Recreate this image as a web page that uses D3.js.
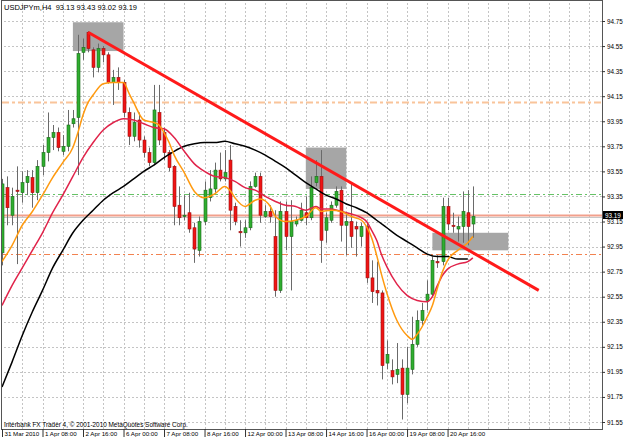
<!DOCTYPE html>
<html><head><meta charset="utf-8">
<script src="https://cdn.jsdelivr.net/npm/d3@7"></script>
<style>
body{margin:0;background:#fff;}
svg{display:block;font-family:"Liberation Sans",Arial,sans-serif;}
</style></head><body>
<svg id="c" width="625" height="441"></svg>
<script>
// ---------- data ----------
const symbolTitle = "USDJPYm,H4  93.13 93.43 93.02 93.19";
const footerText = "Interbank FX Trader 4, \u00a9 2001-2010 MetaQuotes Software Corp.";
const timeLabels = ["31 Mar 2010","1 Apr 08:00","2 Apr 16:00","6 Apr 00:00","7 Apr 08:00","8 Apr 16:00","12 Apr 00:00","13 Apr 08:00","14 Apr 16:00","16 Apr 00:00","19 Apr 08:00","20 Apr 16:00"];
const timeLabelBars = [0,8,16,24,32,40,48,56,64,72,80,88];
const priceTicks = [94.75,94.55,94.35,94.15,93.95,93.75,93.55,93.35,93.15,92.95,92.75,92.55,92.35,92.15,91.95,91.75,91.55];
const openP  = [92.90,93.42,93.20,93.40,93.38,93.46,93.50,93.38,93.59,93.70,93.82,93.86,93.71,93.75,93.93,93.98,94.50,94.66,94.52,94.38,94.53,94.48,94.26,94.30,94.26,94.02,93.83,93.96,93.80,93.70,93.62,94.02,93.86,93.70,93.59,93.28,93.19,93.22,93.10,92.92,93.15,93.34,93.41,93.56,93.49,93.64,93.27,93.07,93.06,93.10,93.43,93.51,93.19,93.23,93.03,92.60,93.23,93.03,93.13,93.16,93.22,93.18,93.46,93.51,93.08,93.16,93.28,93.40,93.12,93.15,93.11,93.03,93.11,92.70,92.60,92.58,92.02,91.96,91.93,91.98,91.77,91.97,92.17,92.36,92.52,92.57,92.83,92.83,93.27,93.12,93.09,93.11,93.22,93.13];
const highP  = [93.49,93.51,93.42,93.59,93.55,93.56,93.56,93.64,93.76,94.02,93.92,93.90,93.84,94.04,94.04,94.64,94.61,94.67,94.54,94.57,94.55,94.50,94.36,94.38,94.28,94.06,94.02,94.02,93.83,93.74,94.24,94.24,93.90,93.72,93.60,93.43,93.36,93.38,93.14,93.19,93.47,93.56,93.62,93.70,93.72,93.76,93.30,93.16,93.16,93.47,93.54,93.54,93.28,93.28,93.24,93.31,93.31,93.32,93.19,93.30,93.35,93.51,93.64,93.72,93.22,93.31,93.43,93.43,93.22,93.46,93.15,93.14,93.14,92.84,92.83,92.60,92.20,92.05,92.18,92.05,92.15,92.39,92.44,92.50,92.68,92.87,92.88,93.34,93.34,93.22,93.19,93.39,93.40,93.43];
const lowP   = [92.80,93.12,93.12,92.81,93.30,93.36,93.26,93.32,93.52,93.63,93.72,93.71,93.68,93.71,93.90,93.52,94.44,94.50,94.30,94.34,94.42,94.25,94.08,94.20,93.98,93.76,93.79,93.74,93.66,93.59,93.60,93.76,93.64,93.55,93.12,93.12,93.16,93.06,92.82,92.87,93.12,93.31,93.38,93.47,93.47,93.08,93.12,92.95,93.02,93.08,93.42,93.14,93.18,93.14,92.55,92.58,92.92,92.60,93.11,93.15,93.12,93.16,93.43,92.82,92.98,93.14,93.26,92.99,92.88,92.94,92.87,92.95,92.66,92.50,92.48,91.89,91.97,91.85,91.86,91.57,91.70,91.93,92.15,92.32,92.44,92.55,92.78,92.80,93.08,93.06,92.99,92.98,92.96,93.02];
const closeP = [93.45,93.26,93.35,93.39,93.46,93.51,93.38,93.59,93.70,93.82,93.86,93.74,93.75,93.92,93.97,94.49,94.54,94.53,94.38,94.53,94.48,94.26,94.30,94.26,94.02,93.83,93.94,93.80,93.70,93.62,94.04,93.80,93.70,93.58,93.27,93.18,93.20,93.09,92.93,93.15,93.40,93.41,93.56,93.49,93.54,93.24,93.15,93.06,93.10,93.43,93.51,93.20,93.23,93.19,92.60,93.23,93.03,93.15,93.16,93.24,93.18,93.42,93.51,93.00,93.18,93.28,93.39,93.12,93.15,93.03,93.09,93.11,92.70,92.59,92.58,92.00,92.09,91.91,91.97,91.77,91.98,92.17,92.36,92.44,92.57,92.84,92.82,93.27,93.13,93.11,93.11,93.23,93.11,93.19];
const lastPrice = 93.19;
// moving averages: [bar, price]
const fastMA = [[0,92.83],[2,92.96],[4,93.12],[6,93.23],[8,93.36],[10,93.50],[12,93.62],[14,93.74],[15,93.86],[16,94.00],[17,94.10],[18,94.16],[20,94.25],[22,94.26],[24,94.26],[25,94.18],[26,94.10],[28,93.96],[30,93.94],[31,93.92],[32,93.86],[33,93.78],[34,93.68],[36,93.54],[38,93.39],[40,93.34],[42,93.37],[44,93.43],[45,93.40],[46,93.34],[48,93.27],[50,93.32],[51,93.33],[53,93.27],[54,93.19],[56,93.15],[58,93.16],[60,93.19],[62,93.26],[63,93.23],[65,93.24],[67,93.23],[69,93.19],[71,93.16],[72,93.11],[73,93.02],[74,92.88],[75,92.72],[76,92.58],[78,92.36],[80,92.24],[81,92.21],[82,92.25],[84,92.39],[85,92.48],[86,92.62],[87,92.75],[88,92.84],[90,92.92],[92,92.98],[93,93.03]];
const midMA = [[0,92.48],[2,92.64],[4,92.78],[6,92.92],[8,93.06],[10,93.22],[12,93.36],[14,93.51],[16,93.66],[18,93.78],[20,93.88],[22,93.94],[24,93.97],[26,93.96],[28,93.93],[30,93.90],[32,93.89],[34,93.82],[36,93.71],[38,93.61],[40,93.55],[42,93.51],[44,93.50],[46,93.47],[48,93.42],[50,93.40],[52,93.35],[54,93.31],[56,93.28],[58,93.27],[60,93.24],[62,93.27],[63,93.25],[65,93.25],[67,93.23],[69,93.21],[71,93.18],[72,93.15],[73,93.08],[74,93.00],[75,92.88],[76,92.79],[78,92.65],[80,92.56],[82,92.52],[84,92.51],[85,92.55],[86,92.64],[87,92.72],[88,92.77],[90,92.81],[92,92.83],[93,92.86]];
const slowMA = [[0,91.83],[2,92.03],[4,92.24],[6,92.43],[8,92.60],[10,92.78],[12,92.92],[14,93.06],[16,93.16],[18,93.24],[20,93.32],[22,93.38],[24,93.43],[26,93.49],[28,93.55],[30,93.60],[32,93.66],[34,93.71],[36,93.75],[38,93.77],[40,93.78],[42,93.78],[44,93.79],[46,93.77],[48,93.75],[50,93.72],[52,93.68],[54,93.63],[56,93.58],[58,93.52],[60,93.46],[62,93.41],[64,93.36],[66,93.33],[68,93.29],[70,93.26],[72,93.22],[74,93.16],[76,93.10],[78,93.04],[80,92.99],[82,92.94],[84,92.89],[86,92.87],[88,92.87],[90,92.85],[92,92.85]];
const levelPrices = [94.10, 93.37, 93.20, 92.89];
const zoneBars = [[14,24],[60,68],[85,100]];
const zonePrices = [[94.74,94.51],[93.74,93.41],[93.06,92.92]];
const trendBars = [17,106];
const trendPrices = [94.66,92.60];

// ---------- drawing ----------
const svg = d3.select("#c");
const L = 2, R = 602, T = 1, B = 429;
const x = d3.scaleLinear().domain([0,118.5]).range([L,R]);
const y = d3.scaleLinear().domain([91.55,94.75]).range([422,21]);
const FONT = "Liberation Sans, Arial, sans-serif";

svg.append("rect").attr("width",625).attr("height",441).attr("fill","#fff");
svg.append("defs").append("clipPath").attr("id","clip")
  .append("rect").attr("x",L).attr("y",T).attr("width",R-L).attr("height",B-T);

// grid
const gH = svg.append("g").attr("transform",`translate(${R},0)`)
  .call(d3.axisLeft(y).tickValues(priceTicks).tickSize(R-L).tickFormat(""));
const gV = svg.append("g").attr("transform",`translate(0,${B})`)
  .call(d3.axisTop(x).tickValues(d3.range(4,118,4)).tickSize(B-T).tickFormat(""));
[gH,gV].forEach(g=>{g.select(".domain").remove();
  g.selectAll("line").attr("stroke","#c4c4c4").attr("stroke-dasharray","2,2").attr("shape-rendering","crispEdges");});

const plot = svg.append("g").attr("clip-path","url(#clip)");

// zones
plot.selectAll("rect.zone").data(zoneBars).join("rect").attr("class","zone")
  .attr("x",d=>x(d[0])).attr("width",d=>x(d[1])-x(d[0]))
  .attr("y",(d,i)=>y(zonePrices[i][0])).attr("height",(d,i)=>y(zonePrices[i][1])-y(zonePrices[i][0]))
  .attr("fill","#a6a6a6");

// horizontal levels
const levelStyle = [
  {c:"#f9c49a",w:2,dash:"7,3,3,3"},
  {c:"#66c266",w:1,dash:"6,3,2,3"},
  {c:"#f2a08c",w:2,dash:null},
  {c:"#f28250",w:1,dash:"6,3,2,3"}];
plot.selectAll("line.level").data(levelPrices).join("line")
  .attr("x1",L).attr("x2",R).attr("y1",d=>Math.round(y(d))+0.5).attr("y2",d=>Math.round(y(d))+0.5)
  .attr("stroke",(d,i)=>levelStyle[i].c).attr("stroke-width",(d,i)=>levelStyle[i].w)
  .attr("stroke-dasharray",(d,i)=>levelStyle[i].dash);
plot.append("line").attr("x1",L).attr("x2",R)
  .attr("y1",Math.round(y(lastPrice))+1.5).attr("y2",Math.round(y(lastPrice))+1.5)
  .attr("stroke","#c8c8c8").attr("stroke-width",1);

// candles
const bars = d3.range(openP.length);
const cx = i => Math.round(x(i))+0.5;
plot.selectAll("line.wick").data(bars).join("line")
  .attr("x1",cx).attr("x2",cx).attr("y1",i=>y(highP[i])).attr("y2",i=>y(lowP[i]))
  .attr("stroke","#6a6a6a").attr("stroke-width",1);
plot.selectAll("rect.body").data(bars).join("rect")
  .attr("x",i=>cx(i)-1.5).attr("width",3)
  .attr("y",i=>y(Math.max(openP[i],closeP[i])))
  .attr("height",i=>Math.max(1,Math.abs(y(openP[i])-y(closeP[i]))))
  .attr("fill",i=>closeP[i]>=openP[i]?"#2fae2f":"#f01414")
  .attr("stroke",i=>closeP[i]>=openP[i]?"#1a6a1a":"#9a1010").attr("stroke-width",0.6);

// moving averages
const line = d3.line().x(d=>x(d[0])).y(d=>y(d[1])).curve(d3.curveMonotoneX);
[[slowMA,"#000000"],[midMA,"#e0234a"],[fastMA,"#ff9a10"]].forEach(([d,c])=>{
  plot.append("path").attr("d",line(d)).attr("fill","none").attr("stroke",c).attr("stroke-width",1.5);
});

// trend line
plot.append("line").attr("x1",x(trendBars[0])).attr("y1",y(trendPrices[0]))
  .attr("x2",x(trendBars[1])).attr("y2",y(trendPrices[1]))
  .attr("stroke","#ff1a1a").attr("stroke-width",3);

// frame
svg.append("rect").attr("x",L-0.5).attr("y",T-0.5).attr("width",R-L+1).attr("height",B-T+1)
  .attr("fill","none").attr("stroke","#555").attr("stroke-width",1).attr("shape-rendering","crispEdges");

// price axis
const ya = svg.append("g").attr("transform",`translate(${R},0)`)
  .call(d3.axisRight(y).tickValues(priceTicks).tickSize(3).tickPadding(2).tickFormat(d3.format(".2f")));
ya.select(".domain").remove();
ya.selectAll("line").attr("stroke","#333");
ya.selectAll("text").attr("font-size",6.3).attr("fill","#000").attr("font-family",FONT);

// time axis
const xa = svg.append("g").attr("transform",`translate(0,${B})`)
  .call(d3.axisBottom(x).tickValues(timeLabelBars).tickSize(8).tickFormat((d,i)=>timeLabels[i]));
xa.select(".domain").remove();
xa.selectAll("line").attr("stroke","#333");
xa.selectAll("text").attr("text-anchor","start").attr("x",2).attr("y",3)
  .attr("font-size",6.2).attr("fill","#000").attr("font-family",FONT);

// last price marker
const ly = Math.round(y(lastPrice));
svg.append("rect").attr("x",R+1).attr("y",ly-5).attr("width",20).attr("height",8).attr("fill","#000");
svg.append("text").attr("x",R+3).attr("y",ly+1.5).attr("font-size",6.3).attr("fill","#fff")
  .attr("font-family",FONT).text(d3.format(".2f")(lastPrice));

// texts
svg.append("text").attr("x",4).attr("y",10).attr("font-size",7.5).attr("fill","#000")
  .attr("font-family",FONT).attr("xml:space","preserve").text(symbolTitle);
svg.append("text").attr("x",4).attr("y",427).attr("font-size",6.4).attr("fill","#000")
  .attr("font-family",FONT).text(footerText);
</script>
</body></html>
